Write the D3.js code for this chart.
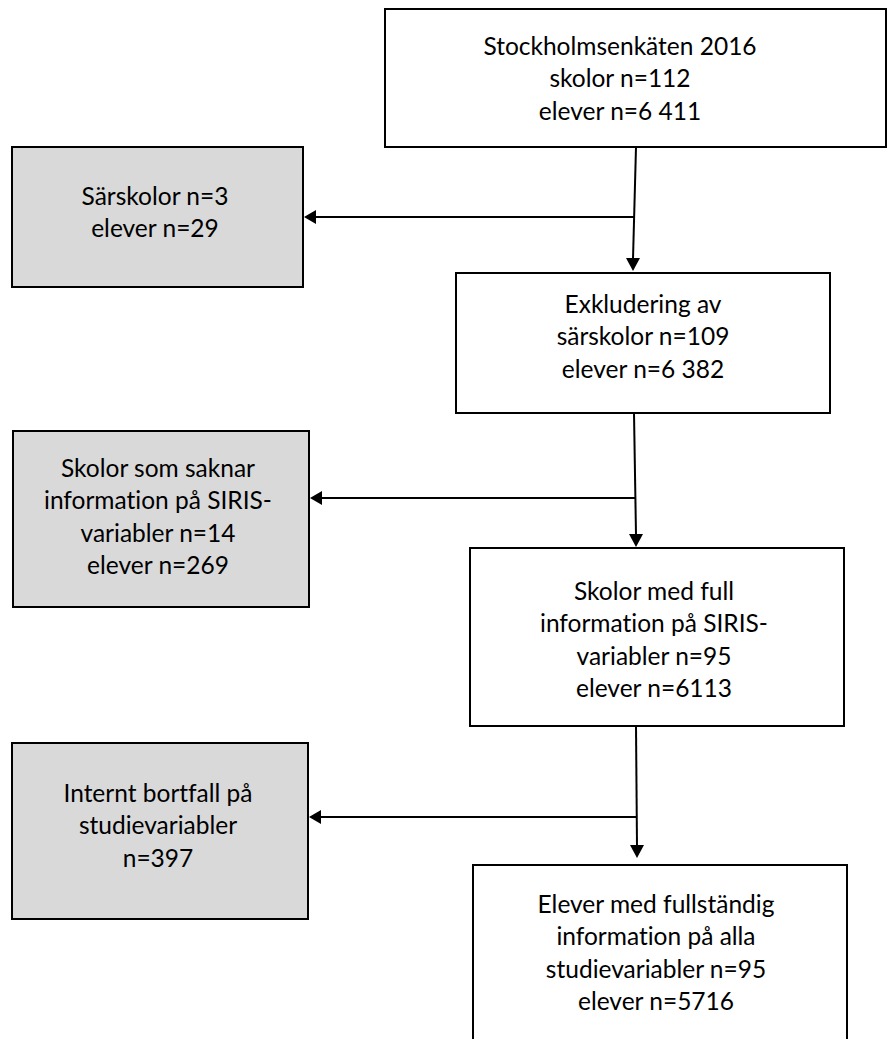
<!DOCTYPE html>
<html>
<head>
<meta charset="utf-8">
<script src="https://cdn.jsdelivr.net/npm/d3@7"></script>
<style>
  html, body { margin: 0; padding: 0; background: #ffffff; }
  svg { display: block; }
  text { font-variant-ligatures: none; font-feature-settings: "liga" 0, "clig" 0; }
</style>
</head>
<body>
<div id="chart"></div>
<script>
// ---------------- DATA ----------------
const nodeIds = ["start", "excl1", "step1", "excl2", "step2", "excl3", "final"];
const nodeKinds = ["main", "excluded", "main", "excluded", "main", "excluded", "main"];
const nodeLines = [
  ["Stockholmsenkäten 2016", "skolor n=112", "elever n=6 411"],
  ["Särskolor n=3", "elever n=29"],
  ["Exkludering av", "särskolor n=109", "elever n=6 382"],
  ["Skolor som saknar", "information på SIRIS-", "variabler n=14", "elever n=269"],
  ["Skolor med full", "information på SIRIS-", "variabler n=95", "elever n=6113"],
  ["Internt bortfall på", "studievariabler", "n=397"],
  ["Elever med fullständig", "information på alla", "studievariabler n=95", "elever n=5716"]
];
// flow edges (main path) and exclusion edges (branch to the left)
const flowEdges = [["start", "step1"], ["step1", "step2"], ["step2", "final"]];
const exclusionEdges = [["start", "excl1"], ["step1", "excl2"], ["step2", "excl3"]];

// ---------------- LAYOUT ----------------
const W = 887, H = 1039;
const layout = {
  start: { x: 385, y: 9,   w: 501, h: 138, tx: 620, ty: 55 },
  excl1: { x: 12,  y: 147, w: 291, h: 140, tx: 155, ty: 205 },
  step1: { x: 456, y: 273, w: 374, h: 140, tx: 643, ty: 313 },
  excl2: { x: 13,  y: 431, w: 296, h: 176, tx: 158, ty: 477 },
  step2: { x: 470, y: 548, w: 374, h: 178, tx: 654, ty: 600 },
  excl3: { x: 12,  y: 743, w: 296, h: 176, tx: 158, ty: 802 },
  final: { x: 473, y: 865, w: 374, h: 200, tx: 656, ty: 913 }
};
// connector geometry: vertical trunk x at source / target, branch y, arrow tip gap
const flowGeom = [
  { x0: 636, x1: 633, yBranch: 217, gap: 2 },
  { x0: 634, x1: 636, yBranch: 498, gap: 1 },
  { x0: 636, x1: 637, yBranch: 817, gap: 7 }
];
const lineGap = 32.3;
const fontFamily = "Lato, 'Open Sans', sans-serif";
const stroke = "#000000";
const grayFill = "#d9d9d9";

const svg = d3.select("#chart").append("svg")
  .attr("width", W).attr("height", H)
  .attr("viewBox", `0 0 ${W} ${H}`);

// fit font size so a reference line matches its width in the original (~228px)
const probe = svg.append("text").attr("font-family", fontFamily).attr("font-size", 100)
  .text("information på SIRIS-");
const probeW = probe.node().getComputedTextLength();
probe.remove();
const fontSize = Math.min(26, 100 * 228 / probeW);

const nodes = nodeIds.map((id, i) => ({ id, kind: nodeKinds[i], lines: nodeLines[i], ...layout[id] }));
const byId = Object.fromEntries(nodes.map(n => [n.id, n]));

// ---------------- BOXES ----------------
const g = svg.append("g");
const boxes = g.selectAll("g.node").data(nodes).join("g").attr("class", "node");
boxes.append("rect")
  .attr("x", d => d.x).attr("y", d => d.y)
  .attr("width", d => d.w).attr("height", d => d.h)
  .attr("fill", d => d.kind === "excluded" ? grayFill : "#ffffff")
  .attr("stroke", stroke).attr("stroke-width", 2);

boxes.each(function (d) {
  const t = d3.select(this).append("text")
    .attr("font-family", fontFamily)
    .attr("font-size", fontSize)
    .attr("fill", "#000")
    .attr("text-anchor", "middle");
  t.selectAll("tspan").data(d.lines).join("tspan")
    .attr("x", d.tx)
    .attr("y", (l, i) => d.ty + i * lineGap)
    .text(l => l);
});

// ---------------- CONNECTORS ----------------
const arrowLen = 13, arrowHalf = 7;
const conn = svg.append("g");
const line = d3.line();

flowEdges.forEach(([s, t], i) => {
  const src = byId[s], tgt = byId[t];
  const geo = flowGeom[i];
  const tipY = tgt.y - geo.gap;
  // vertical trunk
  conn.append("path")
    .attr("d", line([[geo.x0, src.y + src.h], [geo.x1, tipY - arrowLen + 1]]))
    .attr("stroke", stroke).attr("stroke-width", 2).attr("fill", "none");
  conn.append("path")
    .attr("d", line([[geo.x1 - arrowHalf, tipY - arrowLen], [geo.x1 + arrowHalf, tipY - arrowLen], [geo.x1, tipY]]) + "Z")
    .attr("fill", stroke);

  // exclusion branch
  const ex = byId[exclusionEdges[i][1]];
  const bx = ex.x + ex.w;
  const xAtBranch = geo.x0 + (geo.x1 - geo.x0) * ((geo.yBranch - (src.y + src.h)) / (tipY - (src.y + src.h)));
  conn.append("path")
    .attr("d", line([[xAtBranch, geo.yBranch], [bx + arrowLen - 1, geo.yBranch]]))
    .attr("stroke", stroke).attr("stroke-width", 2).attr("fill", "none");
  conn.append("path")
    .attr("d", line([[bx + arrowLen, geo.yBranch - arrowHalf], [bx + arrowLen, geo.yBranch + arrowHalf], [bx + 1, geo.yBranch]]) + "Z")
    .attr("fill", stroke);
});
</script>
</body>
</html>
